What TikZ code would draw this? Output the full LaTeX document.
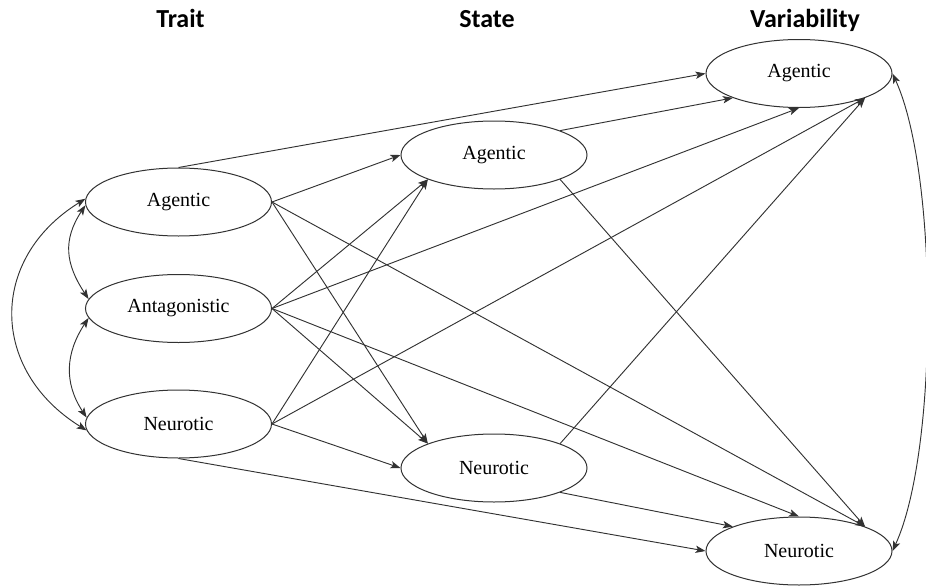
\documentclass[tikz,border=0pt]{standalone}
\usepackage{fontspec}
\setmainfont{Liberation Serif}
\newfontfamily\headfont{Carlito}
\usetikzlibrary{arrows.meta,shapes.geometric}

\definecolor{lineGray}{RGB}{50,50,50}

\tikzset{every picture/.style={line width=0.75pt}}
\tikzset{
  latent/.style={ellipse, draw=lineGray, line width=0.75pt, minimum width=139.5pt, minimum height=51pt, inner sep=0pt, font=\fontsize{15}{18}\selectfont},
  colhead/.style={anchor=base, inner sep=0pt, font=\headfont\bfseries\fontsize{19.5}{22}\selectfont},
  link/.style={draw=lineGray, line width=0.7pt, -{Stealth[length=7.5pt,width=5.5pt,inset=1.8pt]}},
  covar/.style={draw=lineGray, line width=0.7pt, {Stealth[length=7.5pt,width=5.5pt,inset=1.8pt]}-{Stealth[length=7.5pt,width=5.5pt,inset=1.8pt]}}
}

\begin{document}
\begin{tikzpicture}[x=0.75pt,y=0.75pt,yscale=-1,xscale=1]
\useasboundingbox (0,0) rectangle (926,586);

% column headers
\node[colhead] (hTrait) at (180.5,27) {Trait};
\node[colhead] (hState) at (487,27) {State};
\node[colhead] (hVar) at (805,27) {Variability};

% trait factors
\node[latent] (ta) at (178.5,202) {Agentic};
\node[latent] (tan) at (178.5,308.5) {Antagonistic};
\node[latent] (tn) at (178.5,424) {Neurotic};

% state factors
\node[latent] (sa) at (494,155) {Agentic};
\node[latent] (sn) at (494,468) {Neurotic};

% variability factors
\node[latent] (va) at (799,73.5) {Agentic};
\node[latent] (vn) at (799,551) {Neurotic};

% trait paths
\draw[link] (ta.north) -- (va.west);
\draw[link] (ta.east) -- (sa.west);
\draw[link] (ta.east) -- (sn.north west);
\draw[link] (ta.east) -- (vn.north east);
\draw[link] (tan.east) -- (sa.south west);
\draw[link] (tan.east) -- (sn.north west);
\draw[link] (tan.east) -- (va.south);
\draw[link] (tan.east) -- (vn.north);
\draw[link] (tn.east) -- (sa.south west);
\draw[link] (tn.east) -- (sn.west);
\draw[link] (tn.east) -- (va.south east);
\draw[link] (tn.south) -- (vn.west);

% state paths
\draw[link] (sa.north east) -- (va.south west);
\draw[link] (sa.south east) -- (vn.north east);
\draw[link] (sn.north east) -- (va.south east);
\draw[link] (sn.south east) -- (vn.north west);

% covariances
\draw[covar] (ta.182) .. controls +(-23,35) and +(-23,-35) .. (tan.174);
\draw[covar] (tan.186) .. controls +(-23,35) and +(-23,-35) .. (tn.176);
\draw[covar] (ta.178) .. controls +(-97,60) and +(-97,-60) .. (tn.184);
\draw[covar] (va.east) .. controls +(46,100) and +(46,-100) .. (vn.east);
\end{tikzpicture}
\end{document}
